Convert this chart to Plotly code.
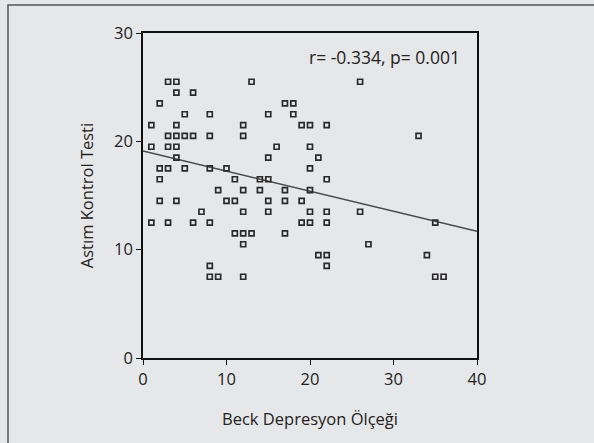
import plotly.graph_objects as go

# Data (Beck Depresyon Ölçeği vs Astım Kontrol Testi)
beck = [
    3, 4, 13, 26,
    4, 6,
    2, 17, 18,
    5, 8, 15, 18,
    1, 4, 12, 19, 20, 22,
    3, 4, 5, 6, 8, 12, 33,
    1, 3, 4, 16, 20,
    4, 15, 21,
    2, 3, 5, 8, 10, 20,
    2, 11, 14, 15, 22,
    9, 12, 14, 17, 20,
    2, 4, 10, 11, 15, 17, 19,
    7, 12, 15, 20, 22, 26,
    1, 3, 6, 8, 19, 20, 22, 35,
    11, 12, 13, 17,
    12, 27,
    21, 22, 34,
    8, 22,
    8, 9, 12, 35, 36,
]
act = (
    [25.5] * 4 + [24.5] * 2 + [23.5] * 3 + [22.5] * 4 + [21.5] * 6 +
    [20.5] * 7 + [19.5] * 5 + [18.5] * 3 + [17.5] * 6 + [16.5] * 5 +
    [15.5] * 5 + [14.5] * 7 + [13.5] * 6 + [12.5] * 8 + [11.5] * 4 +
    [10.5] * 2 + [9.5] * 3 + [8.5] * 2 + [7.5] * 5
)

fit_x = [0, 40]
fit_y = [19.1, 11.7]

x_ticks = [0, 10, 20, 30, 40]
y_ticks = [0, 10, 20, 30]

stat_text = "r= -0.334, p= 0.001"
x_title = "Beck Depresyon Ölçeği"
y_title = "Astım Kontrol Testi"

BG = "#e6e7e8"
INK = "#222222"
FONT = "Open Sans"

fig = go.Figure()
fig.add_trace(go.Scatter(
    x=fit_x, y=fit_y, mode="lines",
    line=dict(color="#4a4a4a", width=1.5),
    hoverinfo="skip", showlegend=False,
))
fig.add_trace(go.Scatter(
    x=beck, y=act, mode="markers",
    marker=dict(symbol="square-open", size=5, color="#2a2a2a",
                line=dict(width=1.7, color="#2a2a2a")),
    showlegend=False,
))

axis_common = dict(
    showgrid=False, zeroline=False,
    showline=True, linecolor="#111111", linewidth=1.5, mirror=True,
    ticks="outside", ticklen=5, tickwidth=1.2, tickcolor="#111111",
    tickfont=dict(family=FONT, size=16.5, color=INK),
)

fig.update_layout(
    width=594, height=443,
    margin=dict(l=143, r=117, t=33, b=85),
    paper_bgcolor=BG, plot_bgcolor=BG,
    font=dict(family=FONT, color=INK),
    xaxis=dict(range=[0, 40], tickvals=x_ticks,
               title=dict(text=x_title, font=dict(family=FONT, size=16.5, color=INK), standoff=25),
               **axis_common),
    yaxis=dict(range=[0, 30], tickvals=y_ticks,
               title=dict(text=y_title, font=dict(family=FONT, size=16.5, color=INK), standoff=16),
               **axis_common),
    annotations=[dict(
        text=stat_text, xref="paper", yref="paper", x=0.955, y=0.925,
        xanchor="right", yanchor="middle", showarrow=False,
        font=dict(family=FONT, size=17.5, color=INK),
    )],
    shapes=[dict(
        type="rect", xref="paper", yref="paper",
        x0=(8 - 143) / 334, x1=(610 - 143) / 334,
        y0=(358 - 460) / 325, y1=(358 - 5) / 325,
        line=dict(color="#555555", width=1.5), fillcolor="rgba(0,0,0,0)",
        layer="below",
    )],
)

fig.write_html("out.html",
               config={"displayModeBar": False},
               post_script="document.body.style.margin='0';document.body.style.overflow='hidden';")
